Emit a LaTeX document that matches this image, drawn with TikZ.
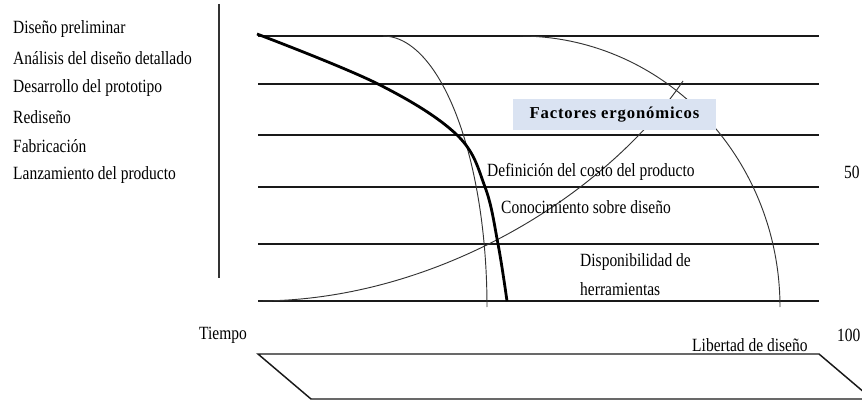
\documentclass[tikz,border=0pt]{standalone}
\usepackage{fontspec}
\setmainfont{Liberation Serif}
\definecolor{boxblue}{HTML}{DAE3F2}
\begin{document}
\begin{tikzpicture}[x=0.75pt,y=-0.75pt,
  lab/.style={anchor=west,inner sep=0pt,xscale=0.83,font=\fontsize{14}{16}\selectfont},
  hline/.style={line width=1.1pt,draw=black!90},
  thinline/.style={line width=0.7pt,draw=black!80},
  thickline/.style={line width=2.1pt,draw=black}]
\clip (0,0) rectangle (862,402);
\fill[white] (0,0) rectangle (862,402);
% left labels
\node[lab] (l1) at (13,29) {Diseño preliminar};
\node[lab] (l2) at (13,58) {Análisis del diseño detallado};
\node[lab] (l3) at (13,88) {Desarrollo del prototipo};
\node[lab] (l4) at (13,117) {Rediseño};
\node[lab] (l5) at (13,146) {Fabricación};
\node[lab] (l6) at (13,175) {Lanzamiento del producto};
% vertical separator
\draw[line width=0.8pt,draw=black!80] (219,4) -- (219,278);
% horizontal bands
\foreach \yy in {36,84,135,187,244,301}
  \draw[hline] (258,\yy) -- (819,\yy);
% curves
\draw[thinline] plot[domain=0:90,samples=60] ({383+104*sin(\x)},{307-271*cos(\x)});
\draw[thinline] plot[domain=0:90,samples=80] ({520+260*sin(\x)},{307-271*cos(\x)});
\draw[thinline] (258,301) .. controls (435,301) and (605,196) .. (683,81);
\draw[thickline] plot[smooth,tension=0.6] coordinates {(257,34) (378,84) (457,135) (485,187) (498,244) (507,301)};
% box
\node[fill=boxblue,minimum width=152.25pt,minimum height=23.25pt,inner sep=0pt,
  font=\fontsize{12.5}{14}\selectfont\bfseries\addfontfeature{LetterSpace=5}] (fe) at (614.5,114.5) {Factores ergonómicos};
% labels inside
\node[lab] (def) at (487,172) {Definición del costo del producto};
\node[lab] (con) at (501,207) {Conocimiento sobre diseño};
\node[lab] (dis1) at (580,262) {Disponibilidad de};
\node[lab] (dis2) at (580,289) {herramientas};
\node[lab] (n50) at (844,172) {50};
\node[lab] (tie) at (199,335) {Tiempo};
\node[lab] (lib) at (692,345) {Libertad de diseño};
\node[lab] (n100) at (837,335) {100};
% trapezoid
\draw[hline] (258,354) -- (819,354) -- (872,399) -- (311,399) -- cycle;
\end{tikzpicture}
\end{document}
